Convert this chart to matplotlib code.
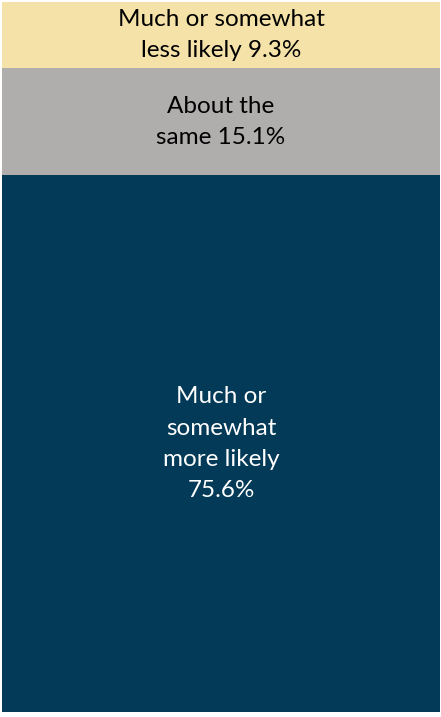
import matplotlib.pyplot as plt

labels = ['Much or somewhat\nless likely 9.3%',
          'About the\nsame 15.1%',
          'Much or\nsomewhat\nmore likely\n75.6%']
values = [9.3, 15.1, 75.6]
colors = ['#F5E2A8', '#B0ADAD', '#023A57']
text_colors = ['black', 'black', 'white']

fig = plt.figure(figsize=(4.41, 7.17), dpi=100)
ax = fig.add_axes([2 / 441, 5 / 717, 438 / 441, 710 / 717])

bottom = 0
for lab, val, col, tc in zip(labels, values, colors, text_colors):
    ax.bar(0, val, bottom=bottom, width=1, color=col, edgecolor='none')
    ax.text(0, bottom + val / 2, lab, ha='center', va='center', color=tc,
            fontsize=17.5, family='Lato', linespacing=1.6)
    bottom += val

ax.set_xlim(-0.5, 0.5)
ax.set_ylim(0, 100)
ax.invert_yaxis()
ax.axis('off')

fig.savefig('out.png', dpi=100)
